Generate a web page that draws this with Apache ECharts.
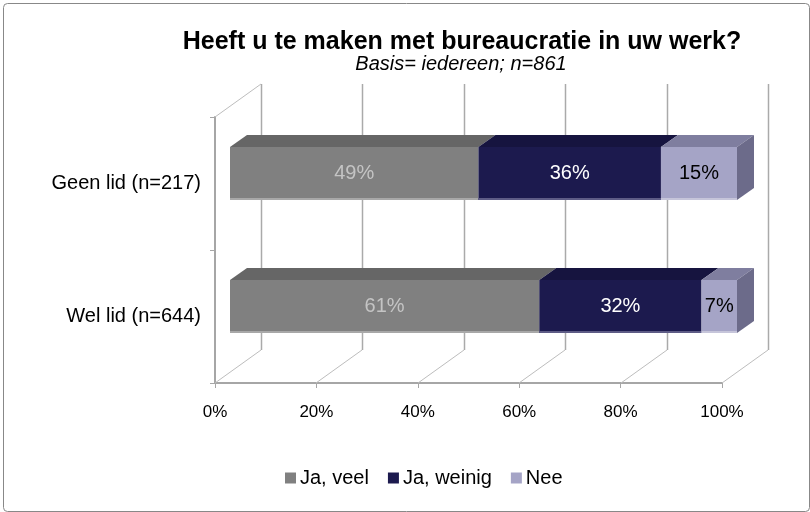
<!DOCTYPE html>
<html><head><meta charset="utf-8">
<script src="https://cdn.jsdelivr.net/npm/echarts@6/dist/echarts.min.js"></script>
<style>html,body{margin:0;padding:0;background:#fff}#c{width:810px;height:512px}</style>
</head><body><div id="c"></div>
<script>
const categories = ['Geen lid (n=217)', 'Wel lid (n=644)'];
const seriesNames = ['Ja, veel', 'Ja, weinig', 'Nee'];
const jaVeel = [49, 61];
const jaWeinig = [36, 32];
const nee = [15, 7];
const xTicks = [0, 20, 40, 60, 80, 100];

const FONT = '"Liberation Sans", Arial, sans-serif';
const colors = [
  {front:'#808080', top:'#666666', side:'#5a5a5a', label:'#c4c4c4', edge:'#a8a8a8'},
  {front:'#1c1a4e', top:'#16143f', side:'#121034', label:'#ffffff', edge:'#5e5c86'},
  {front:'#a5a4c6', top:'#7f7e9f', side:'#6c6b8a', label:'#000000', edge:'#c6c5da'}
];
const values = [jaVeel, jaWeinig, nee];
const starts = values.map((arr, s) => arr.map((v, i) => values.slice(0, s).reduce((a, b) => a + b[i], 0)));

const BAR_OFF = [15, -10];
const BAR_DEPTH = [17, -12];
const WALL = [46, -33];
const BAR_RATIO = 0.4;

function barRender(s) {
  return function (params, api) {
    const i = api.value(0), start = api.value(1), end = api.value(2), v = api.value(3);
    const p0 = api.coord([start, i]);
    const p1 = api.coord([end, i]);
    const bh = api.size([0, 1])[1] * BAR_RATIO;
    const x0 = p0[0] + BAR_OFF[0], x1 = p1[0] + BAR_OFF[0];
    const yc = p0[1] + BAR_OFF[1];
    const yt = yc - bh / 2, yb = yc + bh / 2;
    const dx = BAR_DEPTH[0], dy = BAR_DEPTH[1];
    const c = colors[s];
    const children = [
      {type:'polygon', shape:{points:[[x0,yt],[x1,yt],[x1+dx,yt+dy],[x0+dx,yt+dy]]}, style:{fill:c.top}},
      {type:'rect', shape:{x:x0, y:yt, width:x1-x0, height:bh}, style:{fill:c.front}},
      {type:'line', shape:{x1:x0, y1:yb-1, x2:x1, y2:yb-1}, style:{stroke:c.edge, lineWidth:2}}
    ];
    if (s === values.length - 1) {
      children.push({type:'polygon', shape:{points:[[x1,yt],[x1+dx,yt+dy],[x1+dx,yb+dy],[x1,yb]]}, style:{fill:c.side}});
    }
    children.push({type:'text', style:{text: v + '%', x:(x0+x1)/2, y:yc, align:'center', verticalAlign:'middle', fill:c.label, fontSize:20, fontFamily:FONT}});
    return {type:'group', children};
  };
}

function wallRender(params, api) {
  const v = api.value(0);
  const cs = params.coordSys;
  const xf = Math.round(api.coord([v, 0])[0]);
  const floorY = cs.y + cs.height, topY = cs.y;
  const children = [
    {type:'line', shape:{x1:xf+WALL[0]+0.5, y1:topY+WALL[1], x2:xf+WALL[0]+0.5, y2:floorY+WALL[1]}, style:{stroke:'#aaaaaa', lineWidth:1.5}},
    {type:'line', shape:{x1:xf, y1:floorY, x2:xf+WALL[0], y2:floorY+WALL[1]}, style:{stroke:'#bdbdbd', lineWidth:1}}
  ];
  if (v === xTicks[0]) {
    children.push({type:'line', shape:{x1:xf, y1:topY, x2:xf+WALL[0], y2:topY+WALL[1]}, style:{stroke:'#bdbdbd', lineWidth:1}});
  }
  return {type:'group', children};
}

const chart = echarts.init(document.getElementById('c'), null, {renderer:'canvas'});
const series = [{
  type:'custom', name:'walls', silent:true, z:1,
  renderItem: wallRender,
  encode:{x:0, y:1},
  data: xTicks.map(v => [v, 0])
}];
seriesNames.forEach((n, s) => {
  series.push({
    type:'custom', name:n, z:5 + s,
    itemStyle:{color: colors[s].front},
    renderItem: barRender(s),
    encode:{x:[1,2], y:0},
    data: categories.map((c, i) => [i, starts[s][i], starts[s][i] + values[s][i], values[s][i]])
  });
});

chart.setOption({
  animation:false,
  backgroundColor:'#ffffff',
  textStyle:{fontFamily:FONT},
  title:[
    {text:'Heeft u te maken met bureaucratie in uw werk?', left:457, top:25, textAlign:'center',
     textStyle:{fontSize:25, fontWeight:'bold', color:'#000', fontFamily:FONT}},
    {text:'Basis= iedereen; n=861', left:456, top:49, textAlign:'center',
     textStyle:{fontSize:20, fontStyle:'italic', fontWeight:'normal', color:'#000', fontFamily:FONT}}
  ],
  legend:{
    data: seriesNames, left:280, top:463, icon:'rect', itemWidth:11, itemHeight:11, itemGap:19,
    textStyle:{fontSize:20, color:'#000', fontFamily:FONT, padding:[0,0,0,-1]}
  },
  grid:{left:215, top:117, width:507, height:266, containLabel:false},
  xAxis:{
    type:'value', min:0, max:100, interval:20,
    axisLine:{show:true, lineStyle:{color:'#a6a6a6', width:2}},
    axisTick:{show:true, length:5, lineStyle:{color:'#a6a6a6'}},
    splitLine:{show:false},
    axisLabel:{formatter: v => xTicks.includes(v) ? v + '%' : '', fontSize:17, color:'#000', margin:21, fontFamily:FONT}
  },
  yAxis:{
    type:'category', inverse:true, data:categories,
    axisLine:{show:true, lineStyle:{color:'#a6a6a6', width:2}},
    axisTick:{show:true, length:5, lineStyle:{color:'#a6a6a6'}},
    axisLabel:{fontSize:20, color:'#000', margin:14, fontFamily:FONT}
  },
  graphic:[{type:'rect', left:1, top:1, shape:{width:806, height:508, r:4}, style:{fill:'none', stroke:'#888888', lineWidth:1}, silent:true}],
  series
});
</script></body></html>
